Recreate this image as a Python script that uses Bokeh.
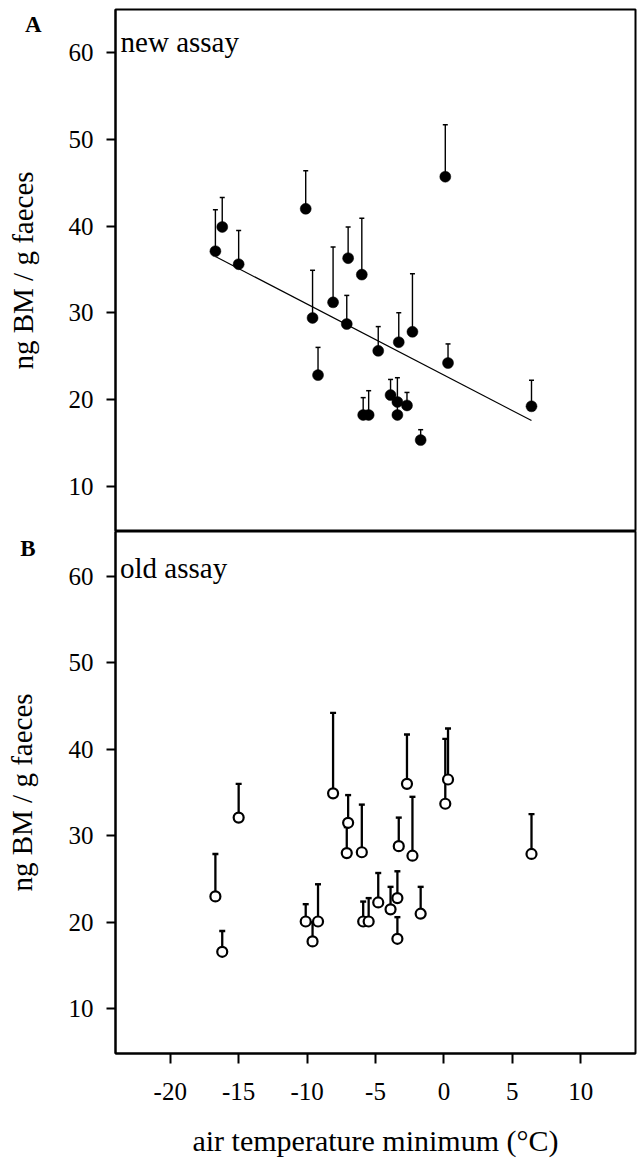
from bokeh.plotting import figure
from bokeh.layouts import column
from bokeh.models import Range1d, FixedTicker, Label, ColumnDataSource, LinearAxis
from bokeh.embed import file_html
from bokeh.resources import INLINE

# ---- data ----
temp = [-16.7, -16.2, -15.0, -10.1, -9.6, -9.2, -8.1, -7.1, -7.0, -6.0, -5.9, -5.5,
        -4.8, -3.9, -3.4, -3.4, -3.3, -2.7, -2.3, -1.7, 0.1, 0.3, 6.4]

new_mean = [37.1, 39.9, 35.6, 42.0, 29.4, 22.8, 31.2, 28.7, 36.3, 34.4, 18.2, 18.2,
            25.6, 20.5, 19.7, 18.2, 26.6, 19.3, 27.8, 15.3, 45.7, 24.2, 19.2]
new_upper = [41.9, 43.3, 39.5, 46.4, 34.9, 26.0, 37.6, 32.0, 39.9, 40.9, 20.2, 21.0,
             28.4, 22.3, 22.5, 19.7, 30.0, 20.8, 34.5, 16.5, 51.7, 26.4, 22.2]

old_mean = [23.0, 16.6, 32.1, 20.1, 17.8, 20.1, 34.9, 28.0, 31.5, 28.1, 20.1, 20.1,
            22.3, 21.5, 22.8, 18.1, 28.8, 36.0, 27.7, 21.0, 33.7, 36.5, 27.9]
old_upper = [27.9, 19.0, 36.0, 22.1, 20.0, 24.4, 44.2, 31.0, 34.7, 33.6, 22.4, 22.8,
             25.7, 24.1, 25.9, 20.6, 32.1, 41.7, 34.5, 24.1, 41.2, 42.4, 32.5]

reg_slope = -0.82
reg_intercept = 22.8

y_ticks = [10, 20, 30, 40, 50, 60]
x_ticks = [-20, -15, -10, -5, 0, 5, 10]
y_title = "ng BM / g faeces"
x_title = "air temperature minimum (°C)"

FONT = "Liberation Serif"


def style_panel(p, tag, tag_y, tag_standoff, title_standoff):
    p.grid.visible = False
    p.outline_line_color = "black"
    p.outline_line_width = 2
    p.outline_line_alpha = 1
    p.background_fill_color = "white"
    p.border_fill_color = "white"
    ax = p.yaxis[0]
    ax.ticker = FixedTicker(ticks=y_ticks)
    ax.axis_line_width = 2
    ax.axis_line_color = "black"
    ax.major_tick_line_width = 2
    ax.major_tick_line_color = "black"
    ax.major_tick_out = 9
    ax.major_tick_in = 0
    ax.minor_tick_line_color = None
    ax.major_label_text_font = FONT
    ax.major_label_text_font_size = "25px"
    ax.major_label_text_color = "black"
    ax.major_label_standoff = 13
    # outer left axis: carries the panel tag (A/B) and the y title
    outer = LinearAxis(ticker=FixedTicker(ticks=[tag_y]),
                       major_label_overrides={tag_y: tag},
                       axis_line_color=None, major_tick_line_color=None,
                       minor_tick_line_color=None, major_tick_out=0, major_tick_in=0,
                       major_label_text_font=FONT, major_label_text_font_size="23px",
                       major_label_text_font_style="bold", major_label_text_color="black",
                       major_label_standoff=tag_standoff,
                       axis_label=y_title, axis_label_text_font=FONT,
                       axis_label_text_font_size="29px", axis_label_text_font_style="normal",
                       axis_label_text_color="black", axis_label_standoff=title_standoff)
    p.add_layout(outer, "left")


# ---- Panel A ----
pA = figure(width=637, height=531, x_range=Range1d(-24, 14), y_range=Range1d(4.75, 65),
            output_backend="svg", toolbar_location=None, x_axis_location=None,
            min_border_left=115, min_border_right=2, min_border_top=9, min_border_bottom=0)
style_panel(pA, "A", 63.3, 24, -17)

srcA = ColumnDataSource(dict(x=temp, y=new_mean, top=new_upper))
pA.segment(x0="x", y0="y", x1="x", y1="top", source=srcA, line_color="black", line_width=1.4)
pA.scatter(x="x", y="top", source=srcA, marker="dash", size=5, line_color="black", line_width=1.5)
x0 = min(temp)
x1 = max(temp)
pA.line(x=[x0, x1], y=[reg_intercept + reg_slope * x0, reg_intercept + reg_slope * x1],
        line_color="black", line_width=1.2)
pA.scatter(x="x", y="y", source=srcA, marker="circle", size=11, fill_color="black",
           line_color="black", line_width=0.5)

pA.add_layout(Label(x=-23.63, y=61.3, text="new assay", text_font=FONT, text_font_size="29px",
                    text_color="black", text_align="left", text_baseline="alphabetic"))

# ---- Panel B ----
pB = figure(width=637, height=628, x_range=Range1d(-24, 14), y_range=Range1d(4.85, 65.15),
            output_backend="svg", toolbar_location=None,
            min_border_left=115, min_border_right=2, min_border_top=0, min_border_bottom=106)
style_panel(pB, "B", 63.2, 30, -21)
xa = pB.xaxis[0]
xa.ticker = FixedTicker(ticks=x_ticks)
xa.major_label_overrides = {t: str(t) for t in x_ticks}
xa.axis_line_width = 2
xa.axis_line_color = "black"
xa.major_tick_line_width = 2
xa.major_tick_line_color = "black"
xa.major_tick_out = 10
xa.major_tick_in = 0
xa.minor_tick_line_color = None
xa.major_label_text_font = FONT
xa.major_label_text_font_size = "25px"
xa.major_label_text_color = "black"
xa.major_label_standoff = 19
xa.axis_label = x_title
xa.axis_label_text_font = FONT
xa.axis_label_text_font_size = "30px"
xa.axis_label_text_font_style = "normal"
xa.axis_label_text_color = "black"
xa.axis_label_standoff = 21

srcB = ColumnDataSource(dict(x=temp, y=old_mean, top=old_upper))
pB.segment(x0="x", y0="y", x1="x", y1="top", source=srcB, line_color="black", line_width=2.3)
pB.scatter(x="x", y="top", source=srcB, marker="dash", size=6, line_color="black", line_width=2.4)
pB.scatter(x="x", y="y", source=srcB, marker="circle", size=10, fill_color="white",
           line_color="black", line_width=2.2)

pB.add_layout(Label(x=-23.67, y=60.98, text="old assay", text_font=FONT, text_font_size="29px",
                    text_color="black", text_align="left", text_baseline="alphabetic"))

layout = column(pA, pB, spacing=0)
open("out.html", "w").write(file_html(layout, INLINE))
